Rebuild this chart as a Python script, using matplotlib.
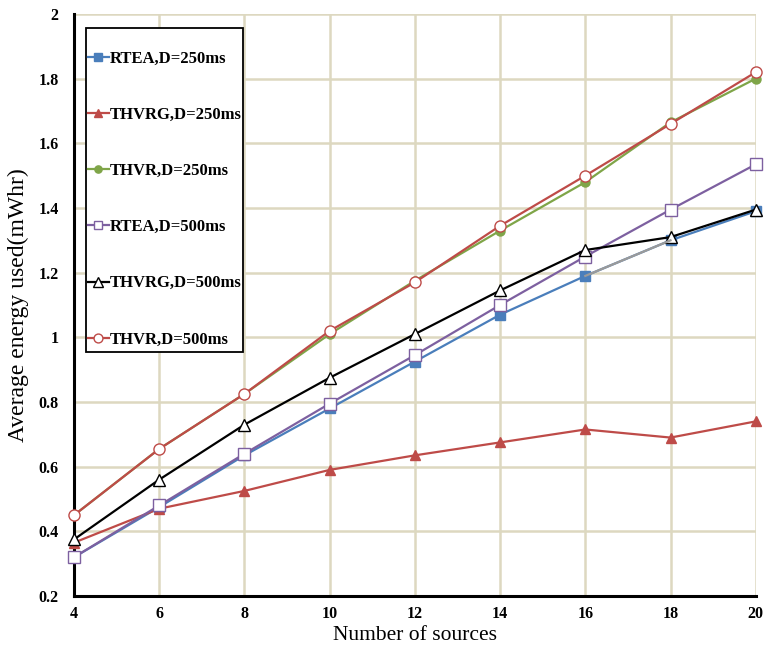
import matplotlib
matplotlib.use("Agg")
import matplotlib.pyplot as plt
from matplotlib.patches import Rectangle

x = [4, 6, 8, 10, 12, 14, 16, 18, 20]
rtea_250 = [0.32, 0.475, 0.635, 0.78, 0.925, 1.07, 1.19, 1.30, 1.39]
thvrg_250 = [0.365, 0.47, 0.525, 0.59, 0.635, 0.675, 0.715, 0.69, 0.74]
thvr_250 = [0.45, 0.655, 0.825, 1.01, 1.175, 1.33, 1.48, 1.665, 1.80]
rtea_500 = [0.32, 0.48, 0.64, 0.795, 0.945, 1.10, 1.25, 1.395, 1.535]
thvrg_500 = [0.375, 0.56, 0.73, 0.875, 1.01, 1.145, 1.27, 1.31, 1.395]
thvr_500 = [0.45, 0.655, 0.825, 1.02, 1.17, 1.345, 1.50, 1.66, 1.82]
labels = ["RTEA,D=250ms", "THVRG,D=250ms", "THVR,D=250ms",
          "RTEA,D=500ms", "THVRG,D=500ms", "THVR,D=500ms"]
yticks = [0.2, 0.4, 0.6, 0.8, 1.0, 1.2, 1.4, 1.6, 1.8, 2.0]
ytick_labels = ["0.2", "0.4", "0.6", "0.8", "1", "1.2", "1.4", "1.6", "1.8", "2"]
xticks = [4, 6, 8, 10, 12, 14, 16, 18, 20]

plt.rcParams['font.family'] = ['Liberation Serif', 'DejaVu Serif']

fig = plt.figure(figsize=(7.68, 6.52), dpi=100)
ax = fig.add_axes([0.0964, 0.0859, 0.8876, 0.8926])

grid_c = '#ddd8c0'
ax.set_axisbelow(True)
ax.grid(True, color=grid_c, linewidth=1.8)

series = [
    (rtea_250, dict(color='#4a7ebb', marker='s', mfc='#4a7ebb', mec='#4a7ebb', ms=6.5)),
    (thvrg_250, dict(color='#be4b48', marker='^', mfc='#be4b48', mec='#be4b48', ms=7.5)),
    (thvr_250, dict(color='#7fa548', marker='o', mfc='#7fa548', mec='#7fa548', ms=6.5)),
    (rtea_500, dict(color='#7d60a0', marker='s', mfc='white', mec='#7d60a0', ms=8)),
    (thvrg_500, dict(color='black', marker='^', mfc='white', mec='black', ms=8.5)),
    (thvr_500, dict(color='#be4b48', marker='o', mfc='white', mec='#be4b48', ms=8)),
]
handles = []
for (vals, st), lab in zip(series, labels):
    h, = ax.plot(x, vals, linewidth=1.6, label=lab, clip_on=False, zorder=3, **st)
    handles.append(h)
# grey-rendered segment of the RTEA,D=250ms line between 16 and 18 sources
ax.plot(x[6:8], rtea_250[6:8], color='#9a9a9a', linewidth=1.6, zorder=3.1)

ax.set_xlim(4, 20)
ax.set_ylim(0.2, 2.0)
ax.set_xticks(xticks)
ax.set_xticklabels([str(v) for v in xticks], fontweight='bold', fontsize=11.5)
ax.set_yticks(yticks)
ax.set_yticklabels(ytick_labels, fontweight='bold', fontsize=11.5)
ax.tick_params(axis='y', length=0, pad=11)
ax.tick_params(axis='x', length=0, pad=7)

for s in ['top', 'right']:
    ax.spines[s].set_visible(False)
for s in ['left', 'bottom']:
    ax.spines[s].set_linewidth(2.2)
    ax.spines[s].set_color('black')

ax.set_xlabel("Number of sources", fontsize=15.5, labelpad=3)
ax.set_ylabel("Average energy used(mWhr)", fontsize=17, labelpad=7)

# legend frame
ax.add_patch(Rectangle((0.0176, 0.419), 0.2302, 0.557, transform=ax.transAxes,
                       facecolor='white', edgecolor='black', linewidth=1.3,
                       zorder=4, clip_on=False))
leg = ax.legend(handles=handles, loc='center left', bbox_to_anchor=(0.02, 0.682),
                prop={'weight': 'bold', 'size': 12},
                labelspacing=2.41, handlelength=1.25, handletextpad=0.1,
                borderpad=0, borderaxespad=0, frameon=False,
                markerscale=0.8)
leg.set_zorder(5)

fig.savefig("out.png", dpi=100)
